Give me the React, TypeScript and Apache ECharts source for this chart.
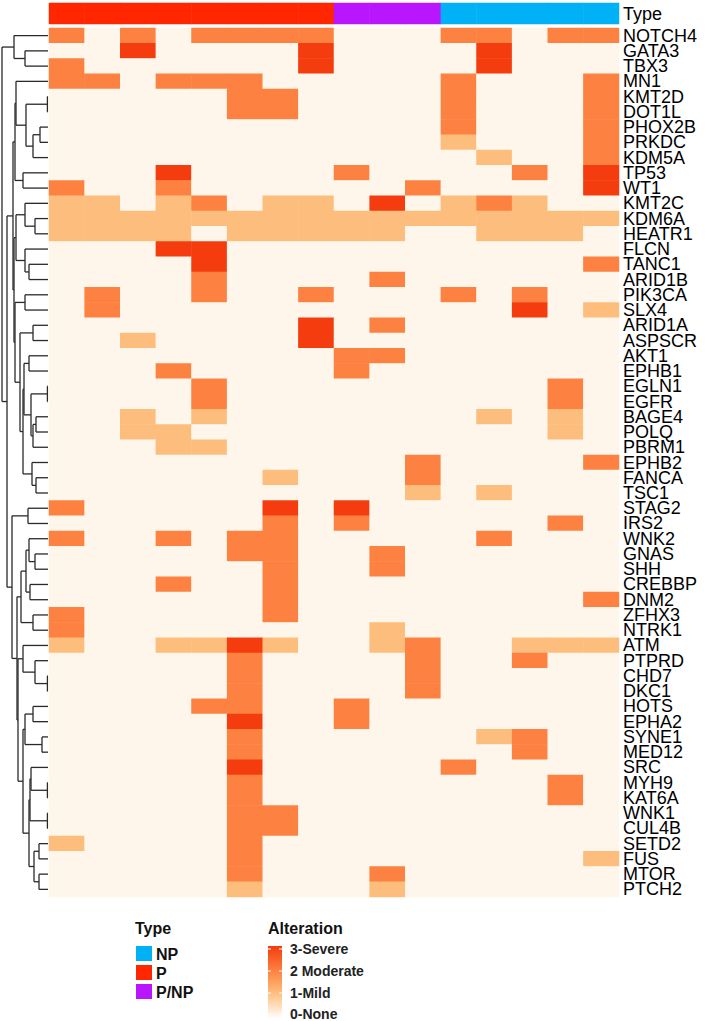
import React, { useEffect, useRef } from "react";
import * as echarts from "echarts";

// ---------- data ----------
const SAMPLES = ["S1","S2","S3","S4","S5","S6","S7","S8","S9","S10","S11","S12","S13","S14","S15","S16"];
// 0 = NP, 1 = P, 2 = P/NP
const SAMPLE_TYPE = [1,1,1,1,1,1,1,1,2,2,2,0,0,0,0,0];
const TYPE_NAMES = ["NP","P","P/NP"];
const TYPE_COLORS = ["#00B1F6","#FF2600","#B916FF"];

const GENES = ["NOTCH4","GATA3","TBX3","MN1","KMT2D","DOT1L","PHOX2B","PRKDC","KDM5A","TP53","WT1","KMT2C","KDM6A","HEATR1","FLCN","TANC1","ARID1B","PIK3CA","SLX4","ARID1A","ASPSCR","AKT1","EPHB1","EGLN1","EGFR","BAGE4","POLQ","PBRM1","EPHB2","FANCA","TSC1","STAG2","IRS2","WNK2","GNAS","SHH","CREBBP","DNM2","ZFHX3","NTRK1","ATM","PTPRD","CHD7","DKC1","HOTS","EPHA2","SYNE1","MED12","SRC","MYH9","KAT6A","WNK1","CUL4B","SETD2","FUS","MTOR","PTCH2"];

// alteration level per gene (rows) x sample (columns): 0 None, 1 Mild, 2 Moderate, 3 Severe
const ALTERATION = [
  [2,0,2,0,2,2,2,2,0,0,0,2,2,0,2,2], // NOTCH4
  [0,0,3,0,0,0,0,3,0,0,0,0,3,0,0,0], // GATA3
  [2,0,0,0,0,0,0,3,0,0,0,0,3,0,0,0], // TBX3
  [2,2,0,2,2,2,0,0,0,0,0,2,0,0,0,2], // MN1
  [0,0,0,0,0,2,2,0,0,0,0,2,0,0,0,2], // KMT2D
  [0,0,0,0,0,2,2,0,0,0,0,2,0,0,0,2], // DOT1L
  [0,0,0,0,0,0,0,0,0,0,0,2,0,0,0,2], // PHOX2B
  [0,0,0,0,0,0,0,0,0,0,0,1,0,0,0,2], // PRKDC
  [0,0,0,0,0,0,0,0,0,0,0,0,1,0,0,2], // KDM5A
  [0,0,0,3,0,0,0,0,2,0,0,0,0,2,0,3], // TP53
  [2,0,0,2,0,0,0,0,0,0,2,0,0,0,0,3], // WT1
  [1,1,0,1,2,0,1,1,0,3,0,1,2,1,0,0], // KMT2C
  [1,1,1,1,1,1,1,1,1,1,1,1,1,1,1,1], // KDM6A
  [1,1,1,1,0,1,1,1,1,1,0,0,1,1,1,0], // HEATR1
  [0,0,0,3,3,0,0,0,0,0,0,0,0,0,0,0], // FLCN
  [0,0,0,0,3,0,0,0,0,0,0,0,0,0,0,2], // TANC1
  [0,0,0,0,2,0,0,0,0,2,0,0,0,0,0,0], // ARID1B
  [0,2,0,0,2,0,0,2,0,0,0,2,0,2,0,0], // PIK3CA
  [0,2,0,0,0,0,0,0,0,0,0,0,0,3,0,1], // SLX4
  [0,0,0,0,0,0,0,3,0,2,0,0,0,0,0,0], // ARID1A
  [0,0,1,0,0,0,0,3,0,0,0,0,0,0,0,0], // ASPSCR
  [0,0,0,0,0,0,0,0,2,2,0,0,0,0,0,0], // AKT1
  [0,0,0,2,0,0,0,0,2,0,0,0,0,0,0,0], // EPHB1
  [0,0,0,0,2,0,0,0,0,0,0,0,0,0,2,0], // EGLN1
  [0,0,0,0,2,0,0,0,0,0,0,0,0,0,2,0], // EGFR
  [0,0,1,0,1,0,0,0,0,0,0,0,1,0,1,0], // BAGE4
  [0,0,1,1,0,0,0,0,0,0,0,0,0,0,1,0], // POLQ
  [0,0,0,1,1,0,0,0,0,0,0,0,0,0,0,0], // PBRM1
  [0,0,0,0,0,0,0,0,0,0,2,0,0,0,0,2], // EPHB2
  [0,0,0,0,0,0,1,0,0,0,2,0,0,0,0,0], // FANCA
  [0,0,0,0,0,0,0,0,0,0,1,0,1,0,0,0], // TSC1
  [2,0,0,0,0,0,3,0,3,0,0,0,0,0,0,0], // STAG2
  [0,0,0,0,0,0,2,0,2,0,0,0,0,0,2,0], // IRS2
  [2,0,0,2,0,2,2,0,0,0,0,0,2,0,0,0], // WNK2
  [0,0,0,0,0,2,2,0,0,2,0,0,0,0,0,0], // GNAS
  [0,0,0,0,0,0,2,0,0,2,0,0,0,0,0,0], // SHH
  [0,0,0,2,0,0,2,0,0,0,0,0,0,0,0,0], // CREBBP
  [0,0,0,0,0,0,2,0,0,0,0,0,0,0,0,2], // DNM2
  [2,0,0,0,0,0,2,0,0,0,0,0,0,0,0,0], // ZFHX3
  [2,0,0,0,0,0,0,0,0,1,0,0,0,0,0,0], // NTRK1
  [1,0,0,1,1,3,1,0,0,1,2,0,0,1,1,1], // ATM
  [0,0,0,0,0,2,0,0,0,0,2,0,0,2,0,0], // PTPRD
  [0,0,0,0,0,2,0,0,0,0,2,0,0,0,0,0], // CHD7
  [0,0,0,0,0,2,0,0,0,0,2,0,0,0,0,0], // DKC1
  [0,0,0,0,2,2,0,0,2,0,0,0,0,0,0,0], // HOTS
  [0,0,0,0,0,3,0,0,2,0,0,0,0,0,0,0], // EPHA2
  [0,0,0,0,0,2,0,0,0,0,0,0,1,2,0,0], // SYNE1
  [0,0,0,0,0,2,0,0,0,0,0,0,0,2,0,0], // MED12
  [0,0,0,0,0,3,0,0,0,0,0,2,0,0,0,0], // SRC
  [0,0,0,0,0,2,0,0,0,0,0,0,0,0,2,0], // MYH9
  [0,0,0,0,0,2,0,0,0,0,0,0,0,0,2,0], // KAT6A
  [0,0,0,0,0,2,2,0,0,0,0,0,0,0,0,0], // WNK1
  [0,0,0,0,0,2,2,0,0,0,0,0,0,0,0,0], // CUL4B
  [1,0,0,0,0,2,0,0,0,0,0,0,0,0,0,0], // SETD2
  [0,0,0,0,0,2,0,0,0,0,0,0,0,0,0,1], // FUS
  [0,0,0,0,0,2,0,0,0,2,0,0,0,0,0,0], // MTOR
  [0,0,0,0,0,1,0,0,0,1,0,0,0,0,0,0], // PTCH2
];

const LEVEL_LABELS = ["0-None","1-Mild","2 Moderate","3-Severe"];
const LEVEL_COLORS = ["#FEF6EA","#FDBE7D","#FD8241","#F43C0E"];

// ---------- row dendrogram (node = [left, right, mergeHeight]) ----------
const CL_A = ["NOTCH4", ["GATA3", "TBX3", 23], 34];
const CL_U1 = [["MN1", [["KMT2D", "DOT1L", 0.6], [["PHOX2B", "PRKDC", 8], "KDM5A", 15], 22], 32], ["TP53", "WT1", 25], 33];
const CL_KF = [["KMT2C", ["KDM6A", "HEATR1", 13], 23], ["FLCN", ["TANC1", "ARID1B", 19], 23], 32];
const CL_AEEB = [["AKT1", "EPHB1", 19], [["EGLN1", "EGFR", 0.6], [["BAGE4", "POLQ", 12], "PBRM1", 15], 17], 24];
const CL_EFT = ["EPHB2", ["FANCA", "TSC1", 12], 16];
const CL_AAX = [["ARID1A", "ASPSCR", 15], [CL_AEEB, CL_EFT, 25], 28];
const CL_PSX = [["PIK3CA", "SLX4", 23], CL_AAX, 33];
const CL_UPPER = [CL_U1, [CL_KF, CL_PSX, 34], 35];
const CL_SI = ["STAG2", "IRS2", 20];
const CL_L2A = [[["WNK2", ["GNAS", "SHH", 13], 19], ["CREBBP", "DNM2", 18], 22], ["ZFHX3", "NTRK1", 15], 27];
const CL_AP = ["ATM", ["PTPRD", ["CHD7", "DKC1", 0.6], 13], 25];
const CL_HS = [["HOTS", "EPHA2", 15], ["SYNE1", "MED12", 6], 23];
const CL_SW = [["SRC", ["MYH9", "KAT6A", 0.6], 17], ["WNK1", "CUL4B", 0.6], 18];
const CL_SFMP = [["SETD2", "FUS", 9], ["MTOR", "PTCH2", 9], 14];
const CL_L2B = [CL_AP, [CL_HS, [CL_SW, CL_SFMP, 19], 25], 30];
const CL_LOWER = [CL_SI, [CL_L2A, CL_L2B, 31], 36];
const TREE = [CL_A, [CL_UPPER, CL_LOWER, 41], 46];

function layoutTree(node: any, segs: number[][]): { y: number; h: number } {
  if (typeof node === "string") return { y: GENES.indexOf(node), h: 0 };
  const [l, r, h] = node;
  const a = layoutTree(l, segs);
  const b = layoutTree(r, segs);
  segs.push([a.h, a.y, h, a.y]);
  segs.push([b.h, b.y, h, b.y]);
  segs.push([h, a.y, h, b.y]);
  return { y: (a.y + b.y) / 2, h };
}

const FONT = "'Liberation Sans', Arial, Helvetica, sans-serif";

export default function App() {
  const ref = useRef<HTMLDivElement>(null);
  useEffect(() => {
    if (!ref.current) return;
    const chart = echarts.init(ref.current, undefined, { renderer: "svg" });

    const segs: number[][] = [];
    layoutTree(TREE, segs);

    const heatData: number[][] = [];
    ALTERATION.forEach((row, gi) => row.forEach((v, si) => heatData.push([si, gi, v])));
    const typeData = SAMPLE_TYPE.map((t, si) => [si, 0, t]);

    const HM_LEFT = 49, HM_WIDTH = 570, HM_TOP = 28, HM_HEIGHT = 869;

    const legendX = 136, legendTop = 946;
    const gradX = 268, gradY = 946, gradW = 14, gradH = 71;
    const levelY = [1014, 993, 971, 949];

    const graphics: any[] = [
      { type: "text", left: 135, top: 920, style: { text: "Type", font: `bold 16px ${FONT}`, fill: "#111" } },
      { type: "text", left: 268, top: 920, style: { text: "Alteration", font: `bold 16px ${FONT}`, fill: "#111" } },
    ];
    TYPE_NAMES.forEach((name, i) => {
      const y = legendTop + i * 19;
      graphics.push({ type: "rect", shape: { x: legendX, y, width: 16, height: 15 }, style: { fill: TYPE_COLORS[i] } });
      graphics.push({ type: "text", x: 156, y: y + 8, style: { text: name, font: `bold 16px ${FONT}`, fill: "#111", textVerticalAlign: "middle" } });
    });
    graphics.push({
      type: "rect",
      shape: { x: gradX, y: gradY, width: gradW, height: gradH },
      style: {
        fill: new echarts.graphic.LinearGradient(0, 0, 0, 1, [
          { offset: 0, color: LEVEL_COLORS[3] },
          { offset: 0.35, color: LEVEL_COLORS[2] },
          { offset: 0.66, color: LEVEL_COLORS[1] },
          { offset: 1, color: "#FFFAF4" },
        ]),
      },
    });
    LEVEL_LABELS.forEach((lab, i) => {
      const y = levelY[i];
      graphics.push({ type: "line", shape: { x1: gradX, y1: y, x2: gradX + 3, y2: y }, style: { stroke: "#fff", lineWidth: 1 } });
      graphics.push({ type: "line", shape: { x1: gradX + gradW - 3, y1: y, x2: gradX + gradW, y2: y }, style: { stroke: "#fff", lineWidth: 1 } });
      graphics.push({ type: "text", x: 290, y, style: { text: lab, font: `bold 14px ${FONT}`, fill: "#222", textVerticalAlign: "middle" } });
    });

    chart.setOption({
      animation: false,
      textStyle: { fontFamily: FONT },
      grid: [
        { left: HM_LEFT, width: HM_WIDTH, top: 3, height: 21 },
        { left: HM_LEFT, width: HM_WIDTH, top: HM_TOP, height: HM_HEIGHT },
        { left: 0, width: 48, top: HM_TOP, height: HM_HEIGHT },
      ],
      xAxis: [
        { type: "category", gridIndex: 0, data: SAMPLES, show: false },
        { type: "category", gridIndex: 1, data: SAMPLES, show: false },
        { type: "value", gridIndex: 2, min: 0, max: 48, inverse: true, show: false },
      ],
      yAxis: [
        {
          type: "category", gridIndex: 0, data: ["Type"], position: "right",
          axisLine: { show: false }, axisTick: { show: false },
          axisLabel: { margin: 4, fontSize: 18, color: "#000", fontFamily: FONT },
        },
        {
          type: "category", gridIndex: 1, data: GENES, position: "right", inverse: true,
          axisLine: { show: false }, axisTick: { show: false },
          axisLabel: { interval: 0, margin: 4, fontSize: 18, color: "#000", fontFamily: FONT },
        },
        { type: "value", gridIndex: 2, min: -0.5, max: GENES.length - 0.5, inverse: true, show: false },
      ],
      visualMap: [
        {
          type: "piecewise", show: false, seriesIndex: 0, dimension: 2,
          pieces: TYPE_NAMES.map((n, i) => ({ value: i, label: n, color: TYPE_COLORS[i] })),
        },
        {
          type: "piecewise", show: false, seriesIndex: 1, dimension: 2,
          pieces: LEVEL_LABELS.map((n, i) => ({ value: i, label: n, color: LEVEL_COLORS[i] })),
        },
      ],
      series: [
        { type: "heatmap", xAxisIndex: 0, yAxisIndex: 0, data: typeData, itemStyle: { borderWidth: 0 } },
        { type: "heatmap", xAxisIndex: 1, yAxisIndex: 1, data: heatData, itemStyle: { borderWidth: 0 } },
        {
          type: "custom", xAxisIndex: 2, yAxisIndex: 2, data: segs, clip: false,
          dimensions: ["x1", "y1", "x2", "y2"],
          encode: { x: [0, 2], y: [1, 3] },
          renderItem: (_p: any, api: any) => {
            const p1 = api.coord([api.value(0), api.value(1)]);
            const p2 = api.coord([api.value(2), api.value(3)]);
            return {
              type: "line",
              shape: { x1: p1[0], y1: p1[1], x2: p2[0], y2: p2[1] },
              style: { stroke: "#2a2a2a", lineWidth: 1.3 },
            };
          },
        },
      ],
      graphic: graphics,
    });
    return () => chart.dispose();
  }, []);
  return (
    <div
      ref={ref}
      style={{ position: "fixed", left: 0, top: 0, width: 709, height: 1021, background: "#fff" }}
    />
  );
}
